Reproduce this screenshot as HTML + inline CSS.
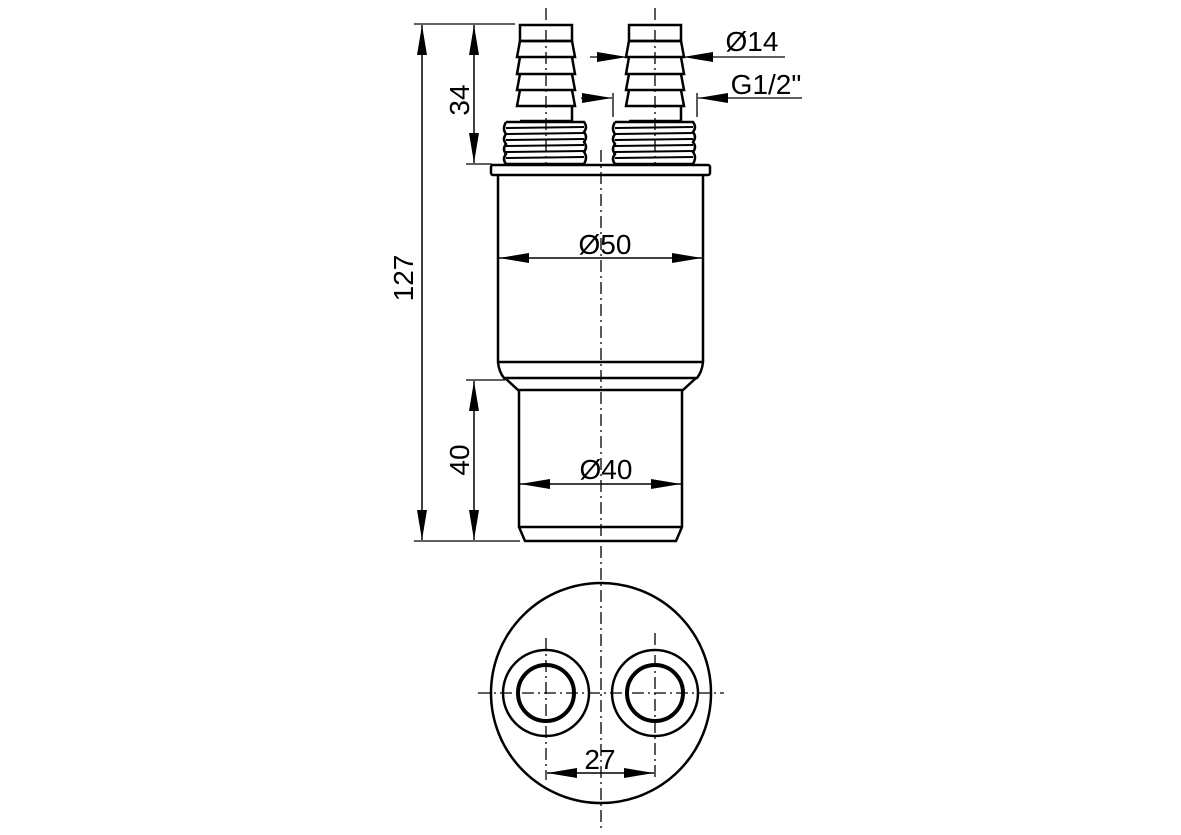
<!DOCTYPE html>
<html><head><style>body{margin:0;background:#fff}svg{display:block}</style></head><body>
<svg width="1181" height="835" viewBox="0 0 1181 835" xmlns="http://www.w3.org/2000/svg" font-family="Liberation Sans, sans-serif">
<defs>
<marker id="a" viewBox="0 0 30 10" refX="30" refY="5" markerWidth="30" markerHeight="10" markerUnits="userSpaceOnUse" orient="auto-start-reverse"><path d="M0,0 L30,5 L0,10z" fill="#000" stroke="none"/></marker>
</defs>
<rect width="1181" height="835" fill="#fff"/>
<g fill="none" stroke="#000">
<g stroke-width="1.3" stroke-dasharray="12,4,2,4">
<line x1="601" y1="150" x2="601" y2="832"/>
<line x1="546" y1="8" x2="546" y2="165"/>
<line x1="655" y1="8" x2="655" y2="165"/>
<line x1="478" y1="693" x2="724" y2="693"/>
<line x1="546" y1="638" x2="546" y2="780"/>
<line x1="655" y1="633" x2="655" y2="780"/>
</g>
<g stroke-width="2.5">
<path d="M520,25 L572,25 L572,41 L520,41 Z"/>
<path d="M520,41 L572,41 L575,57 L517,57 Z M520,57 L572,57 L575,74 L517,74 Z M520,74 L572,74 L575,90 L517,90 Z M520,90 L572,90 L575,106 L517,106 Z M520,106 L572,106 L572,121 L520,121"/>
<path d="M629,25 L681,25 L681,41 L629,41 Z"/>
<path d="M629,41 L681,41 L684,57 L626,57 Z M629,57 L681,57 L684,74 L626,74 Z M629,74 L681,74 L684,90 L626,90 Z M629,90 L681,90 L684,106 L626,106 Z M629,106 L681,106 L681,121 L629,121"/>
<path d="M506,122 L584,122 Q588,127 584,132 Q588,137 584,142 Q588,147 584,152 Q588,157 584,164 L506,164 Q502,159 506,154 Q502,149 506,144 Q502,139 506,134 Q502,129 506,122"/>
<path d="M506,128 L584,127 M506,134 L584,133 M506,140 L584,139 M506,146 L584,145 M506,152 L584,151 M506,158 L584,157" stroke-width="2"/>
<path d="M615,122 L693,122 Q697,127 693,132 Q697,137 693,142 Q697,147 693,152 Q697,157 693,164 L615,164 Q611,159 615,154 Q611,149 615,144 Q611,139 615,134 Q611,129 615,122"/>
<path d="M615,128 L693,127 M615,134 L693,133 M615,140 L693,139 M615,146 L693,145 M615,152 L693,151 M615,158 L693,157" stroke-width="2"/>
<rect x="491" y="165" width="219" height="10" rx="2"/>
<path d="M498,175 L498,362 Q499,372 504,378 L697,378 Q702,372 703,362 L703,175"/>
<line x1="498" y1="362" x2="703" y2="362"/>
<path d="M505,378 L518,390 L683,390 L696,378"/>
<path d="M519,390 L519,527 L525,541 L676,541 L682,527 L682,390"/>
<line x1="519" y1="527" x2="682" y2="527"/>
<circle cx="601" cy="693" r="110"/>
<circle cx="546" cy="693" r="43"/>
<circle cx="655" cy="693" r="43"/>
<circle cx="546" cy="693" r="28" stroke-width="4"/>
<circle cx="655" cy="693" r="28" stroke-width="4"/>
</g>
</g>
<g fill="none" stroke="#000" stroke-width="1.3">
<line x1="414" y1="24" x2="515" y2="24"/>
<line x1="414" y1="541" x2="520" y2="541"/>
<line x1="466" y1="164" x2="492" y2="164"/>
<line x1="466" y1="380" x2="505" y2="380"/>
<line x1="422" y1="25" x2="422" y2="540" marker-start="url(#a)" marker-end="url(#a)" stroke-width="1.5"/>
<line x1="474" y1="25" x2="474" y2="163" marker-start="url(#a)" marker-end="url(#a)" stroke-width="1.5"/>
<line x1="474" y1="381" x2="474" y2="540" marker-start="url(#a)" marker-end="url(#a)" stroke-width="1.5"/>
<line x1="499" y1="258" x2="702" y2="258" marker-start="url(#a)" marker-end="url(#a)" stroke-width="1.5"/>
<line x1="520" y1="484" x2="681" y2="484" marker-start="url(#a)" marker-end="url(#a)" stroke-width="1.5"/>
<line x1="547" y1="773" x2="654" y2="773" marker-start="url(#a)" marker-end="url(#a)" stroke-width="1.5"/>
<line x1="590" y1="57" x2="627" y2="57" marker-end="url(#a)"/>
<line x1="785" y1="57" x2="683" y2="57" marker-end="url(#a)"/>
<line x1="581" y1="98" x2="612" y2="98" marker-end="url(#a)"/>
<line x1="802" y1="98" x2="698" y2="98" marker-end="url(#a)"/>
<line x1="613" y1="93" x2="613" y2="117"/>
<line x1="697" y1="93" x2="697" y2="117"/>
</g>
<g font-size="28" fill="#000" text-anchor="middle">
<text x="605" y="254">Ø50</text>
<text x="606" y="479">Ø40</text>
<text x="600" y="769">27</text>
<text x="752" y="51">Ø14</text>
<text x="766" y="94">G1/2"</text>
<text transform="translate(413,278) rotate(-90)">127</text>
<text transform="translate(469,100) rotate(-90)">34</text>
<text transform="translate(469,460) rotate(-90)">40</text>
</g>
</svg>
</body></html>
